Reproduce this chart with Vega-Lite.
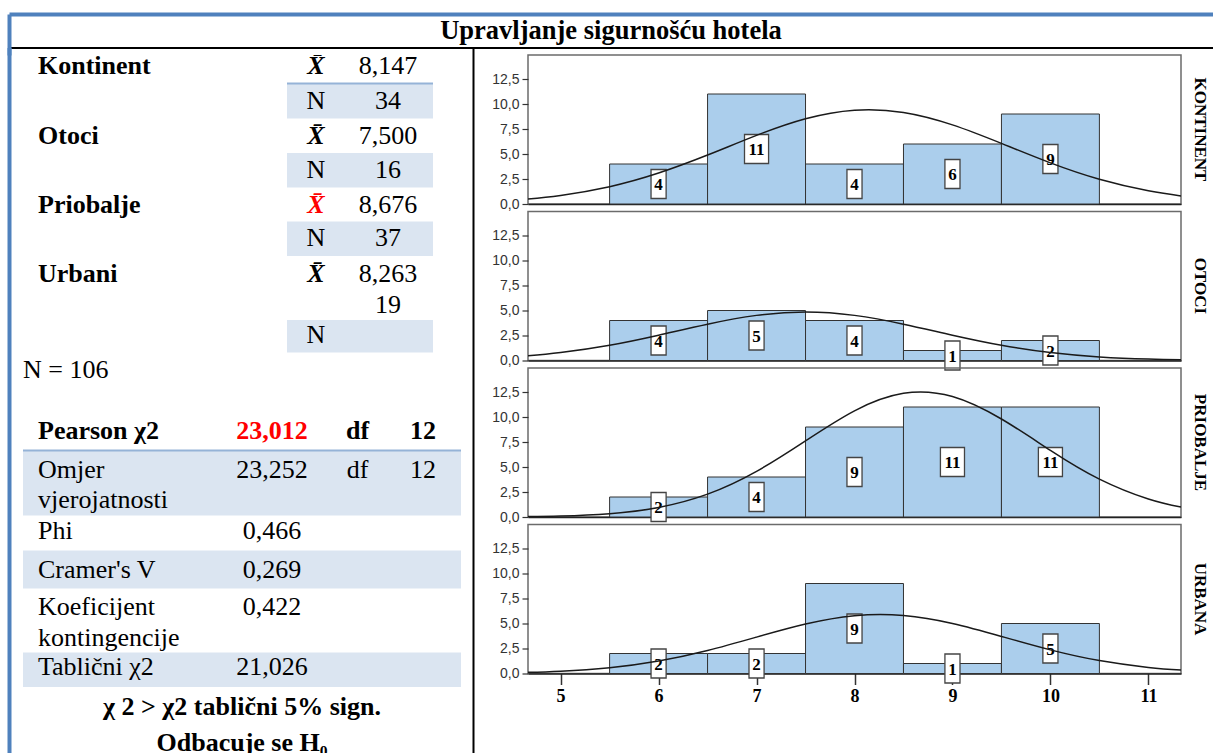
{
  "$schema": "https://vega.github.io/schema/vega-lite/v6.json",
  "background": "white",
  "padding": {"left": 9, "top": 14, "right": 0, "bottom": 0},
  "config": {"font": "Liberation Serif", "view": {"stroke": "#6b6b6b", "strokeWidth": 1.5}},
  "datasets": {
    "table": [
      {"line": 0, "col": 1, "text": "Kontinent", "role": "group"},
      {"line": 0, "col": 5, "text": "X\u0304", "role": "stat"},
      {"line": 0, "col": 7, "text": "8,147", "role": "value"},
      {"line": 1, "col": 5, "text": "N", "role": "value"},
      {"line": 1, "col": 7, "text": "34", "role": "value"},
      {"line": 2, "col": 1, "text": "Otoci", "role": "group"},
      {"line": 2, "col": 5, "text": "X\u0304", "role": "stat"},
      {"line": 2, "col": 7, "text": "7,500", "role": "value"},
      {"line": 3, "col": 5, "text": "N", "role": "value"},
      {"line": 3, "col": 7, "text": "16", "role": "value"},
      {"line": 4, "col": 1, "text": "Priobalje", "role": "group"},
      {"line": 4, "col": 5, "text": "X\u0304", "role": "stat", "hl": true},
      {"line": 4, "col": 7, "text": "8,676", "role": "value"},
      {"line": 5, "col": 5, "text": "N", "role": "value"},
      {"line": 5, "col": 7, "text": "37", "role": "value"},
      {"line": 6, "col": 1, "text": "Urbani", "role": "group"},
      {"line": 6, "col": 5, "text": "X\u0304", "role": "stat"},
      {"line": 6, "col": 7, "text": "8,263", "role": "value"},
      {"line": 7, "col": 7, "text": "19", "role": "value"},
      {"line": 8, "col": 5, "text": "N", "role": "value"},
      {"line": 9, "col": 0, "text": "N = 106", "role": "label"},
      {"line": 11, "col": 1, "text": "Pearson \u03c72", "role": "group"},
      {"line": 11, "col": 3, "text": "23,012", "role": "head", "hl": true},
      {"line": 11, "col": 6, "text": "df", "role": "head"},
      {"line": 11, "col": 8, "text": "12", "role": "head"},
      {"line": 12, "col": 1, "text": "Omjer", "role": "label"},
      {"line": 12, "col": 3, "text": "23,252", "role": "value"},
      {"line": 12, "col": 6, "text": "df", "role": "value"},
      {"line": 12, "col": 8, "text": "12", "role": "value"},
      {"line": 13, "col": 1, "text": "vjerojatnosti", "role": "label"},
      {"line": 14, "col": 1, "text": "Phi", "role": "label"},
      {"line": 14, "col": 3, "text": "0,466", "role": "value"},
      {"line": 15, "col": 1, "text": "Cramer's V", "role": "label"},
      {"line": 15, "col": 3, "text": "0,269", "role": "value"},
      {"line": 16, "col": 1, "text": "Koeficijent", "role": "label"},
      {"line": 16, "col": 3, "text": "0,422", "role": "value"},
      {"line": 17, "col": 1, "text": "kontingencije", "role": "label"},
      {"line": 18, "col": 1, "text": "Tablični \u03c72", "role": "label"},
      {"line": 18, "col": 3, "text": "21,026", "role": "value"},
      {"line": 19, "col": 2, "text": "\u03c7 2 > \u03c72 tablični 5% sign.", "role": "head"},
      {"line": 20, "col": 2, "text": "Odbacuje se H\u2080", "role": "head"}
    ],
    "shade": [
      {"c0": 4, "c1": 9, "r0": 0.5, "r1": 1.5},
      {"c0": 4, "c1": 9, "r0": 2.5, "r1": 3.5},
      {"c0": 4, "c1": 9, "r0": 4.5, "r1": 5.5},
      {"c0": 4, "c1": 9, "r0": 7.5, "r1": 8.5},
      {"c0": 0, "c1": 10, "r0": 11.5, "r1": 13.5},
      {"c0": 0, "c1": 10, "r0": 14.5, "r1": 15.5},
      {"c0": 0, "c1": 10, "r0": 17.5, "r1": 18.5}
    ],
    "seps": [
      {"c0": 4, "c1": 9, "r": 0.5},
      {"c0": 0, "c1": 10, "r": 11.5}
    ],
    "hist": [
      {"region": "KONTINENT", "score": 6, "count": 4},
      {"region": "KONTINENT", "score": 7, "count": 11},
      {"region": "KONTINENT", "score": 8, "count": 4},
      {"region": "KONTINENT", "score": 9, "count": 6},
      {"region": "KONTINENT", "score": 10, "count": 9},
      {"region": "OTOCI", "score": 6, "count": 4},
      {"region": "OTOCI", "score": 7, "count": 5},
      {"region": "OTOCI", "score": 8, "count": 4},
      {"region": "OTOCI", "score": 9, "count": 1},
      {"region": "OTOCI", "score": 10, "count": 2},
      {"region": "PRIOBALJE", "score": 6, "count": 2},
      {"region": "PRIOBALJE", "score": 7, "count": 4},
      {"region": "PRIOBALJE", "score": 8, "count": 9},
      {"region": "PRIOBALJE", "score": 9, "count": 11},
      {"region": "PRIOBALJE", "score": 10, "count": 11},
      {"region": "URBANA", "score": 6, "count": 2},
      {"region": "URBANA", "score": 7, "count": 2},
      {"region": "URBANA", "score": 8, "count": 9},
      {"region": "URBANA", "score": 9, "count": 1},
      {"region": "URBANA", "score": 10, "count": 5}
    ],
    "curve": [
      {"region": "KONTINENT", "cx": 4.667, "density": 0.505},
      {"region": "KONTINENT", "cx": 5, "density": 0.86},
      {"region": "KONTINENT", "cx": 5.5, "density": 1.733},
      {"region": "KONTINENT", "cx": 6, "density": 3.094},
      {"region": "KONTINENT", "cx": 6.5, "density": 4.894},
      {"region": "KONTINENT", "cx": 7, "density": 6.86},
      {"region": "KONTINENT", "cx": 7.5, "density": 8.522},
      {"region": "KONTINENT", "cx": 8, "density": 9.381},
      {"region": "KONTINENT", "cx": 8.5, "density": 9.15},
      {"region": "KONTINENT", "cx": 9, "density": 7.909},
      {"region": "KONTINENT", "cx": 9.5, "density": 6.058},
      {"region": "KONTINENT", "cx": 10, "density": 4.111},
      {"region": "KONTINENT", "cx": 10.5, "density": 2.473},
      {"region": "KONTINENT", "cx": 11, "density": 1.318},
      {"region": "KONTINENT", "cx": 11.333, "density": 0.811},
      {"region": "OTOCI", "cx": 4.667, "density": 0.479},
      {"region": "OTOCI", "cx": 5, "density": 0.799},
      {"region": "OTOCI", "cx": 5.5, "density": 1.53},
      {"region": "OTOCI", "cx": 6, "density": 2.535},
      {"region": "OTOCI", "cx": 6.5, "density": 3.635},
      {"region": "OTOCI", "cx": 7, "density": 4.512},
      {"region": "OTOCI", "cx": 7.5, "density": 4.85},
      {"region": "OTOCI", "cx": 8, "density": 4.512},
      {"region": "OTOCI", "cx": 8.5, "density": 3.635},
      {"region": "OTOCI", "cx": 9, "density": 2.535},
      {"region": "OTOCI", "cx": 9.5, "density": 1.53},
      {"region": "OTOCI", "cx": 10, "density": 0.799},
      {"region": "OTOCI", "cx": 10.5, "density": 0.362},
      {"region": "OTOCI", "cx": 11, "density": 0.142},
      {"region": "OTOCI", "cx": 11.333, "density": 0.07},
      {"region": "PRIOBALJE", "cx": 4.667, "density": 0.039},
      {"region": "PRIOBALJE", "cx": 5, "density": 0.098},
      {"region": "PRIOBALJE", "cx": 5.5, "density": 0.334},
      {"region": "PRIOBALJE", "cx": 6, "density": 0.956},
      {"region": "PRIOBALJE", "cx": 6.5, "density": 2.285},
      {"region": "PRIOBALJE", "cx": 7, "density": 4.563},
      {"region": "PRIOBALJE", "cx": 7.5, "density": 7.614},
      {"region": "PRIOBALJE", "cx": 8, "density": 10.62},
      {"region": "PRIOBALJE", "cx": 8.5, "density": 12.37},
      {"region": "PRIOBALJE", "cx": 9, "density": 12.05},
      {"region": "PRIOBALJE", "cx": 9.5, "density": 9.8},
      {"region": "PRIOBALJE", "cx": 10, "density": 6.667},
      {"region": "PRIOBALJE", "cx": 10.5, "density": 3.788},
      {"region": "PRIOBALJE", "cx": 11, "density": 1.799},
      {"region": "PRIOBALJE", "cx": 11.333, "density": 0.992},
      {"region": "URBANA", "cx": 4.667, "density": 0.117},
      {"region": "URBANA", "cx": 5, "density": 0.234},
      {"region": "URBANA", "cx": 5.5, "density": 0.582},
      {"region": "URBANA", "cx": 6, "density": 1.248},
      {"region": "URBANA", "cx": 6.5, "density": 2.299},
      {"region": "URBANA", "cx": 7, "density": 3.637},
      {"region": "URBANA", "cx": 7.5, "density": 4.945},
      {"region": "URBANA", "cx": 8, "density": 5.777},
      {"region": "URBANA", "cx": 8.5, "density": 5.8},
      {"region": "URBANA", "cx": 9, "density": 5.004},
      {"region": "URBANA", "cx": 9.5, "density": 3.709},
      {"region": "URBANA", "cx": 10, "density": 2.363},
      {"region": "URBANA", "cx": 10.5, "density": 1.293},
      {"region": "URBANA", "cx": 11, "density": 0.608},
      {"region": "URBANA", "cx": 11.333, "density": 0.338}
    ]
  },
  "spacing": 0,
  "bounds": "flush",
  "vconcat": [
    {
      "width": 1204,
      "height": 41,
      "view": {"stroke": null},
      "data": {"values": [{"title": "Upravljanje sigurnošću hotela"}]},
      "resolve": {"axis": {"x": "independent"}},
      "layer": [
        {
          "mark": {"type": "text", "font": "Liberation Serif", "fontWeight": "bold", "fontSize": 26.5, "baseline": "middle", "align": "center", "color": "#000", "dy": -3.5},
          "encoding": {
            "text": {"field": "title", "type": "nominal"},
            "x": {"datum": 0.5, "type": "quantitative", "scale": {"domain": [0, 1], "nice": false}, "axis": {"orient": "top", "domainColor": "#4F81BD", "domainWidth": 4, "ticks": false, "labels": false, "grid": false, "title": null}},
            "y": {"datum": 0.5, "type": "quantitative", "scale": {"domain": [0, 1], "nice": false}, "axis": {"orient": "left", "domainColor": "#4F81BD", "domainWidth": 4, "ticks": false, "labels": false, "grid": false, "title": null}}
          }
        },
        {
          "mark": {"type": "text", "text": ""},
          "encoding": {
            "x": {"datum": 0.5, "type": "quantitative", "axis": {"orient": "bottom", "offset": -7.5, "domainColor": "#000000", "domainWidth": 2, "ticks": false, "labels": false, "grid": false, "title": null}}
          }
        }
      ]
    },
    {
      "spacing": 55,
      "bounds": "flush",
      "hconcat": [
        {
          "width": 464,
          "height": 698,
          "view": {"stroke": null},
          "resolve": {"axis": {"y": "independent"}},
          "layer": [
            {
              "data": {"name": "shade"},
              "mark": {"type": "rect", "fill": "#DBE5F1"},
              "encoding": {
                "x": {"field": "c0", "type": "quantitative", "axis": null, "scale": {"domain": [0,1,2,3,4,5,6,7,8,9,10], "range": [14,29,233,263,278,307,348.5,379,414,424,452], "zero": false, "nice": false}},
                "x2": {"field": "c1"},
                "y": {"field": "r0", "type": "quantitative", "scale": {"domain": [-0.53,0,1,2,3,4,5,6,7,8,9,10,11,12,13,14,15,16,17,18,19,20,20.3], "range": [-7.5,11,46,81,115,150,183,219,250,280,315,345.5,376,415,445,476,515,552,583,612,652,688,698], "zero": false, "nice": false},
                  "axis": {"orient": "left", "domainColor": "#4F81BD", "domainWidth": 4, "ticks": false, "labels": false, "grid": false, "title": null}},
                "y2": {"field": "r1"}
              }
            },
            {
              "data": {"name": "seps"},
              "mark": {"type": "rule", "stroke": "#95B3D7", "strokeWidth": 2},
              "encoding": {
                "x": {"field": "c0", "type": "quantitative", "axis": null},
                "x2": {"field": "c1"},
                "y": {"field": "r", "type": "quantitative", "axis": {"orient": "right", "domainColor": "#000000", "domainWidth": 2, "ticks": false, "labels": false, "grid": false, "title": null}}
              }
            },
            {
              "data": {"name": "table"},
              "transform": [{"filter": "datum.role === 'group'"}],
              "mark": {"type": "text", "font": "Liberation Serif", "fontWeight": "bold", "fontSize": 26, "align": "left", "baseline": "middle", "clip": true},
              "encoding": {
                "x": {"field": "col", "type": "quantitative", "axis": null},
                "y": {"field": "line", "type": "quantitative", "axis": null},
                "text": {"field": "text"},
                "color": {"condition": {"test": "datum.hl === true", "value": "#FF0000"}, "value": "#000000"}
              }
            },
            {
              "data": {"name": "table"},
              "transform": [{"filter": "datum.role === 'label'"}],
              "mark": {"type": "text", "font": "Liberation Serif", "fontSize": 26, "align": "left", "baseline": "middle", "clip": true},
              "encoding": {
                "x": {"field": "col", "type": "quantitative", "axis": null},
                "y": {"field": "line", "type": "quantitative", "axis": null},
                "text": {"field": "text"},
                "color": {"condition": {"test": "datum.hl === true", "value": "#FF0000"}, "value": "#000000"}
              }
            },
            {
              "data": {"name": "table"},
              "transform": [{"filter": "datum.role === 'stat'"}],
              "mark": {"type": "text", "font": "Liberation Serif", "fontWeight": "bold", "fontStyle": "italic", "fontSize": 26, "align": "center", "baseline": "middle", "clip": true},
              "encoding": {
                "x": {"field": "col", "type": "quantitative", "axis": null},
                "y": {"field": "line", "type": "quantitative", "axis": null},
                "text": {"field": "text"},
                "color": {"condition": {"test": "datum.hl === true", "value": "#FF0000"}, "value": "#000000"}
              }
            },
            {
              "data": {"name": "table"},
              "transform": [{"filter": "datum.role === 'value'"}],
              "mark": {"type": "text", "font": "Liberation Serif", "fontSize": 26, "align": "center", "baseline": "middle", "clip": true},
              "encoding": {
                "x": {"field": "col", "type": "quantitative", "axis": null},
                "y": {"field": "line", "type": "quantitative", "axis": null},
                "text": {"field": "text"},
                "color": {"condition": {"test": "datum.hl === true", "value": "#FF0000"}, "value": "#000000"}
              }
            },
            {
              "data": {"name": "table"},
              "transform": [{"filter": "datum.role === 'head'"}],
              "mark": {"type": "text", "font": "Liberation Serif", "fontWeight": "bold", "fontSize": 26, "align": "center", "baseline": "middle", "clip": true},
              "encoding": {
                "x": {"field": "col", "type": "quantitative", "axis": null},
                "y": {"field": "line", "type": "quantitative", "axis": null},
                "text": {"field": "text"},
                "color": {"condition": {"test": "datum.hl === true", "value": "#FF0000"}, "value": "#000000"}
              }
            }
          ]
        },
        {
          "spacing": 7.5,
          "bounds": "flush",
          "vconcat": [
            {
              "width": 653, "height": 149,
              "title": {"text": "KONTINENT", "orient": "right", "anchor": "middle", "angle": 90, "font": "Liberation Serif", "fontWeight": "bold", "fontSize": 17, "color": "#000", "offset": 10},
              "layer": [
                {
                  "data": {"name": "hist"},
                  "transform": [{"filter": "datum.region === 'KONTINENT'"}, {"calculate": "datum.score - 0.5", "as": "s0"}, {"calculate": "datum.score + 0.5", "as": "s1"}],
                  "mark": {"type": "rect", "fill": "#ABCEEC", "stroke": "#333333", "strokeWidth": 1},
                  "encoding": {
                    "x": {"field": "s0", "type": "quantitative", "scale": {"domain": [4.667, 11.333], "nice": false, "zero": false}, "axis": {"title": null, "labels": false, "ticks": false, "grid": false, "domainColor": "#222", "domainWidth": 1.5}},
                    "x2": {"field": "s1"},
                    "y": {"field": "count", "type": "quantitative", "scale": {"domain": [0, 14.9], "nice": false}, "axis": {"title": null, "values": [0, 2.5, 5, 7.5, 10, 12.5], "tickCount": 30, "labelOverlap": false, "grid": false, "labelExpr": "abs(datum.value / 2.5 - round(datum.value / 2.5)) < 0.01 ? replace(format(datum.value, '.1f'), '.', ',') : ''", "tickOpacity": {"condition": {"test": "abs(datum.value / 2.5 - round(datum.value / 2.5)) < 0.01", "value": 1}, "value": 0}, "labelFont": "Liberation Sans", "labelFontSize": 14, "labelColor": "#333", "tickSize": 6, "tickColor": "#333", "tickWidth": 1.2, "domain": false, "labelPadding": 3}},
                    "y2": {"datum": 0}
                  }
                },
                {
                  "data": {"name": "hist"},
                  "transform": [{"filter": "datum.region === 'KONTINENT'"}, {"calculate": "datum.count / 2", "as": "mid"}],
                  "mark": {"type": "point", "filled": true, "fill": "#ffffff", "stroke": "#444444", "strokeWidth": 1.3, "opacity": 1, "size": 841},
                  "encoding": {
                    "x": {"field": "score", "type": "quantitative"},
                    "y": {"field": "mid", "type": "quantitative"},
                    "shape": {"condition": {"test": "datum.count >= 10", "value": "M-0.83,-1L0.83,-1L0.83,1L-0.83,1Z"}, "value": "M-0.52,-1L0.52,-1L0.52,1L-0.52,1Z"}
                  }
                },
                {
                  "data": {"name": "hist"},
                  "transform": [{"filter": "datum.region === 'KONTINENT'"}, {"calculate": "datum.count / 2", "as": "mid"}],
                  "mark": {"type": "text", "font": "Liberation Serif", "fontWeight": "bold", "fontSize": 17, "align": "center", "baseline": "middle", "color": "#000", "dy": 1},
                  "encoding": {
                    "x": {"field": "score", "type": "quantitative"},
                    "y": {"field": "mid", "type": "quantitative"},
                    "text": {"field": "count", "type": "quantitative"}
                  }
                },
                {
                  "data": {"name": "curve"},
                  "transform": [{"filter": "datum.region === 'KONTINENT'"}],
                  "mark": {"type": "line", "interpolate": "natural", "stroke": "#1a1a1a", "strokeWidth": 1.5, "clip": true},
                  "encoding": {
                    "x": {"field": "cx", "type": "quantitative"},
                    "y": {"field": "density", "type": "quantitative"}
                  }
                }
              ]
            },
            {
              "width": 653, "height": 149,
              "title": {"text": "OTOCI", "orient": "right", "anchor": "middle", "angle": 90, "font": "Liberation Serif", "fontWeight": "bold", "fontSize": 17, "color": "#000", "offset": 10},
              "layer": [
                {
                  "data": {"name": "hist"},
                  "transform": [{"filter": "datum.region === 'OTOCI'"}, {"calculate": "datum.score - 0.5", "as": "s0"}, {"calculate": "datum.score + 0.5", "as": "s1"}],
                  "mark": {"type": "rect", "fill": "#ABCEEC", "stroke": "#333333", "strokeWidth": 1},
                  "encoding": {
                    "x": {"field": "s0", "type": "quantitative", "scale": {"domain": [4.667, 11.333], "nice": false, "zero": false}, "axis": {"title": null, "labels": false, "ticks": false, "grid": false, "domainColor": "#222", "domainWidth": 1.5}},
                    "x2": {"field": "s1"},
                    "y": {"field": "count", "type": "quantitative", "scale": {"domain": [0, 14.9], "nice": false}, "axis": {"title": null, "values": [0, 2.5, 5, 7.5, 10, 12.5], "tickCount": 30, "labelOverlap": false, "grid": false, "labelExpr": "abs(datum.value / 2.5 - round(datum.value / 2.5)) < 0.01 ? replace(format(datum.value, '.1f'), '.', ',') : ''", "tickOpacity": {"condition": {"test": "abs(datum.value / 2.5 - round(datum.value / 2.5)) < 0.01", "value": 1}, "value": 0}, "labelFont": "Liberation Sans", "labelFontSize": 14, "labelColor": "#333", "tickSize": 6, "tickColor": "#333", "tickWidth": 1.2, "domain": false, "labelPadding": 3}},
                    "y2": {"datum": 0}
                  }
                },
                {
                  "data": {"name": "hist"},
                  "transform": [{"filter": "datum.region === 'OTOCI'"}, {"calculate": "datum.count / 2", "as": "mid"}],
                  "mark": {"type": "point", "filled": true, "fill": "#ffffff", "stroke": "#444444", "strokeWidth": 1.3, "opacity": 1, "size": 841},
                  "encoding": {
                    "x": {"field": "score", "type": "quantitative"},
                    "y": {"field": "mid", "type": "quantitative"},
                    "shape": {"condition": {"test": "datum.count >= 10", "value": "M-0.83,-1L0.83,-1L0.83,1L-0.83,1Z"}, "value": "M-0.52,-1L0.52,-1L0.52,1L-0.52,1Z"}
                  }
                },
                {
                  "data": {"name": "hist"},
                  "transform": [{"filter": "datum.region === 'OTOCI'"}, {"calculate": "datum.count / 2", "as": "mid"}],
                  "mark": {"type": "text", "font": "Liberation Serif", "fontWeight": "bold", "fontSize": 17, "align": "center", "baseline": "middle", "color": "#000", "dy": 1},
                  "encoding": {
                    "x": {"field": "score", "type": "quantitative"},
                    "y": {"field": "mid", "type": "quantitative"},
                    "text": {"field": "count", "type": "quantitative"}
                  }
                },
                {
                  "data": {"name": "curve"},
                  "transform": [{"filter": "datum.region === 'OTOCI'"}],
                  "mark": {"type": "line", "interpolate": "natural", "stroke": "#1a1a1a", "strokeWidth": 1.5, "clip": true},
                  "encoding": {
                    "x": {"field": "cx", "type": "quantitative"},
                    "y": {"field": "density", "type": "quantitative"}
                  }
                }
              ]
            },
            {
              "width": 653, "height": 149,
              "title": {"text": "PRIOBALJE", "orient": "right", "anchor": "middle", "angle": 90, "font": "Liberation Serif", "fontWeight": "bold", "fontSize": 17, "color": "#000", "offset": 10},
              "layer": [
                {
                  "data": {"name": "hist"},
                  "transform": [{"filter": "datum.region === 'PRIOBALJE'"}, {"calculate": "datum.score - 0.5", "as": "s0"}, {"calculate": "datum.score + 0.5", "as": "s1"}],
                  "mark": {"type": "rect", "fill": "#ABCEEC", "stroke": "#333333", "strokeWidth": 1},
                  "encoding": {
                    "x": {"field": "s0", "type": "quantitative", "scale": {"domain": [4.667, 11.333], "nice": false, "zero": false}, "axis": {"title": null, "labels": false, "ticks": false, "grid": false, "domainColor": "#222", "domainWidth": 1.5}},
                    "x2": {"field": "s1"},
                    "y": {"field": "count", "type": "quantitative", "scale": {"domain": [0, 14.9], "nice": false}, "axis": {"title": null, "values": [0, 2.5, 5, 7.5, 10, 12.5], "tickCount": 30, "labelOverlap": false, "grid": false, "labelExpr": "abs(datum.value / 2.5 - round(datum.value / 2.5)) < 0.01 ? replace(format(datum.value, '.1f'), '.', ',') : ''", "tickOpacity": {"condition": {"test": "abs(datum.value / 2.5 - round(datum.value / 2.5)) < 0.01", "value": 1}, "value": 0}, "labelFont": "Liberation Sans", "labelFontSize": 14, "labelColor": "#333", "tickSize": 6, "tickColor": "#333", "tickWidth": 1.2, "domain": false, "labelPadding": 3}},
                    "y2": {"datum": 0}
                  }
                },
                {
                  "data": {"name": "hist"},
                  "transform": [{"filter": "datum.region === 'PRIOBALJE'"}, {"calculate": "datum.count / 2", "as": "mid"}],
                  "mark": {"type": "point", "filled": true, "fill": "#ffffff", "stroke": "#444444", "strokeWidth": 1.3, "opacity": 1, "size": 841},
                  "encoding": {
                    "x": {"field": "score", "type": "quantitative"},
                    "y": {"field": "mid", "type": "quantitative"},
                    "shape": {"condition": {"test": "datum.count >= 10", "value": "M-0.83,-1L0.83,-1L0.83,1L-0.83,1Z"}, "value": "M-0.52,-1L0.52,-1L0.52,1L-0.52,1Z"}
                  }
                },
                {
                  "data": {"name": "hist"},
                  "transform": [{"filter": "datum.region === 'PRIOBALJE'"}, {"calculate": "datum.count / 2", "as": "mid"}],
                  "mark": {"type": "text", "font": "Liberation Serif", "fontWeight": "bold", "fontSize": 17, "align": "center", "baseline": "middle", "color": "#000", "dy": 1},
                  "encoding": {
                    "x": {"field": "score", "type": "quantitative"},
                    "y": {"field": "mid", "type": "quantitative"},
                    "text": {"field": "count", "type": "quantitative"}
                  }
                },
                {
                  "data": {"name": "curve"},
                  "transform": [{"filter": "datum.region === 'PRIOBALJE'"}],
                  "mark": {"type": "line", "interpolate": "natural", "stroke": "#1a1a1a", "strokeWidth": 1.5, "clip": true},
                  "encoding": {
                    "x": {"field": "cx", "type": "quantitative"},
                    "y": {"field": "density", "type": "quantitative"}
                  }
                }
              ]
            },
            {
              "width": 653, "height": 149,
              "title": {"text": "URBANA", "orient": "right", "anchor": "middle", "angle": 90, "font": "Liberation Serif", "fontWeight": "bold", "fontSize": 17, "color": "#000", "offset": 10},
              "layer": [
                {
                  "data": {"name": "hist"},
                  "transform": [{"filter": "datum.region === 'URBANA'"}, {"calculate": "datum.score - 0.5", "as": "s0"}, {"calculate": "datum.score + 0.5", "as": "s1"}],
                  "mark": {"type": "rect", "fill": "#ABCEEC", "stroke": "#333333", "strokeWidth": 1},
                  "encoding": {
                    "x": {"field": "s0", "type": "quantitative", "scale": {"domain": [4.667, 11.333], "nice": false, "zero": false}, "axis": {"title": null, "values": [5, 6, 7, 8, 9, 10, 11], "tickCount": 7, "format": "d", "grid": false, "labelFont": "Liberation Serif", "labelFontWeight": "bold", "labelFontSize": 18, "labelColor": "#000", "tickSize": 11, "tickWidth": 1.5, "tickColor": "#333", "domainColor": "#222", "domainWidth": 1.5, "labelPadding": 3}},
                    "x2": {"field": "s1"},
                    "y": {"field": "count", "type": "quantitative", "scale": {"domain": [0, 14.9], "nice": false}, "axis": {"title": null, "values": [0, 2.5, 5, 7.5, 10, 12.5], "tickCount": 30, "labelOverlap": false, "grid": false, "labelExpr": "abs(datum.value / 2.5 - round(datum.value / 2.5)) < 0.01 ? replace(format(datum.value, '.1f'), '.', ',') : ''", "tickOpacity": {"condition": {"test": "abs(datum.value / 2.5 - round(datum.value / 2.5)) < 0.01", "value": 1}, "value": 0}, "labelFont": "Liberation Sans", "labelFontSize": 14, "labelColor": "#333", "tickSize": 6, "tickColor": "#333", "tickWidth": 1.2, "domain": false, "labelPadding": 3}},
                    "y2": {"datum": 0}
                  }
                },
                {
                  "data": {"name": "hist"},
                  "transform": [{"filter": "datum.region === 'URBANA'"}, {"calculate": "datum.count / 2", "as": "mid"}],
                  "mark": {"type": "point", "filled": true, "fill": "#ffffff", "stroke": "#444444", "strokeWidth": 1.3, "opacity": 1, "size": 841},
                  "encoding": {
                    "x": {"field": "score", "type": "quantitative"},
                    "y": {"field": "mid", "type": "quantitative"},
                    "shape": {"condition": {"test": "datum.count >= 10", "value": "M-0.83,-1L0.83,-1L0.83,1L-0.83,1Z"}, "value": "M-0.52,-1L0.52,-1L0.52,1L-0.52,1Z"}
                  }
                },
                {
                  "data": {"name": "hist"},
                  "transform": [{"filter": "datum.region === 'URBANA'"}, {"calculate": "datum.count / 2", "as": "mid"}],
                  "mark": {"type": "text", "font": "Liberation Serif", "fontWeight": "bold", "fontSize": 17, "align": "center", "baseline": "middle", "color": "#000", "dy": 1},
                  "encoding": {
                    "x": {"field": "score", "type": "quantitative"},
                    "y": {"field": "mid", "type": "quantitative"},
                    "text": {"field": "count", "type": "quantitative"}
                  }
                },
                {
                  "data": {"name": "curve"},
                  "transform": [{"filter": "datum.region === 'URBANA'"}],
                  "mark": {"type": "line", "interpolate": "natural", "stroke": "#1a1a1a", "strokeWidth": 1.5, "clip": true},
                  "encoding": {
                    "x": {"field": "cx", "type": "quantitative"},
                    "y": {"field": "density", "type": "quantitative"}
                  }
                }
              ]
            }
          ]
        }
      ]
    }
  ]
}
